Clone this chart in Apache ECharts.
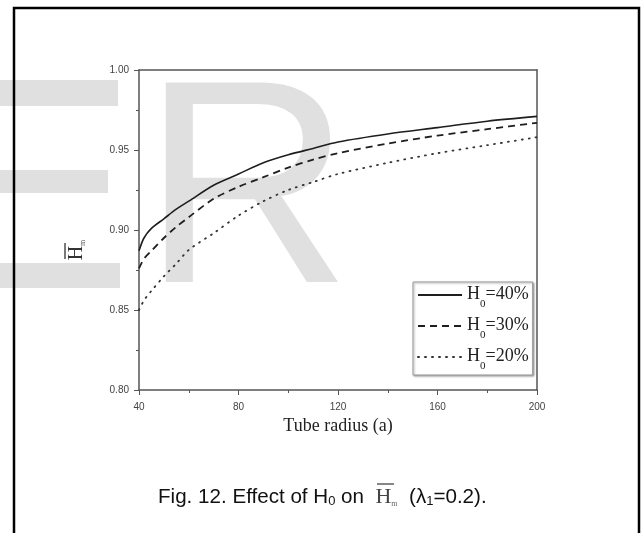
<!DOCTYPE html>
<html>
<head>
<meta charset="utf-8">
<script src="https://cdn.jsdelivr.net/npm/echarts@6/dist/echarts.min.js"></script>
<style>
  html, body { margin: 0; padding: 0; background: #fff; }
  #main { width: 643px; height: 533px; }
</style>
</head>
<body>
<div id="main"></div>
<script>
  // tube radius (a) where the curves were read
  var radius = [40, 42, 45, 50, 55, 60, 70, 80, 90, 100, 110, 120, 140, 160, 180, 200];
  // Hm for each H0
  var h40 = [0.887, 0.895, 0.901, 0.907, 0.913, 0.918, 0.928, 0.935, 0.942, 0.947, 0.951, 0.955, 0.960, 0.964, 0.968, 0.971];
  var h30 = [0.876, 0.882, 0.887, 0.895, 0.902, 0.908, 0.9195, 0.927, 0.933, 0.939, 0.944, 0.948, 0.954, 0.959, 0.963, 0.967];
  var h20 = [0.850, 0.856, 0.862, 0.871, 0.879, 0.8875, 0.898, 0.909, 0.918, 0.925, 0.930, 0.935, 0.942, 0.948, 0.953, 0.958];
  var seriesNames = ['H0=40%', 'H0=30%', 'H0=20%'];
  var xTicks = [40, 80, 120, 160, 200];
  var yTicks = [0.80, 0.85, 0.90, 0.95, 1.00];

  function zip(vals) {
    return radius.map(function (r, i) { return [r, vals[i]]; });
  }

  var wm = '#e0e0e0';   // watermark grey
  var ink = '#1e1e1e';

  var myChart = echarts.init(document.getElementById('main'));
  var option = {
    backgroundColor: '#fff',
    animation: false,
    grid: { left: 139, top: 70, width: 398, height: 320 },
    xAxis: [{
      type: 'value',
      min: xTicks[0], max: xTicks[xTicks.length - 1], interval: xTicks[1] - xTicks[0],
      name: 'Tube radius (a)', nameLocation: 'middle', nameGap: 25,
      nameTextStyle: { fontFamily: 'Liberation Serif', fontSize: 18, color: '#222' },
      axisLine: { lineStyle: { color: '#555', width: 1.5 } },
      axisTick: { length: 5, lineStyle: { color: '#555' } },
      minorTick: { show: true, splitNumber: 2, length: 3, lineStyle: { color: '#555' } },
      axisLabel: { margin: 12, fontFamily: 'Liberation Sans', fontSize: 10, color: '#444' },
      splitLine: { show: false }
    }, {
      type: 'value', position: 'top',
      min: xTicks[0], max: xTicks[xTicks.length - 1],
      axisLine: { onZero: false, lineStyle: { color: '#555', width: 1.5 } },
      axisTick: { show: false }, axisLabel: { show: false }, splitLine: { show: false }
    }],
    yAxis: [{
      type: 'value',
      min: yTicks[0], max: yTicks[yTicks.length - 1], interval: 0.05,
      axisLine: { show: true, onZero: false, lineStyle: { color: '#555', width: 1.5 } },
      axisTick: { show: true, length: 5, lineStyle: { color: '#555' } },
      minorTick: { show: true, splitNumber: 2, length: 3, lineStyle: { color: '#555' } },
      axisLabel: {
        margin: 10, fontFamily: 'Liberation Sans', fontSize: 10, color: '#444',
        formatter: function (v) { return v.toFixed(2); }
      },
      splitLine: { show: false }
    }, {
      type: 'value', position: 'right',
      min: yTicks[0], max: yTicks[yTicks.length - 1],
      axisLine: { show: true, onZero: false, lineStyle: { color: '#555', width: 1.5 } },
      axisTick: { show: false }, axisLabel: { show: false }, splitLine: { show: false }
    }],
    legend: {
      orient: 'vertical', left: 413, top: 282,
      itemWidth: 44, itemHeight: 14, itemGap: 6, padding: [3, 4, 3, 4],
      backgroundColor: '#fff', borderColor: '#999', borderWidth: 1,
      shadowColor: 'rgba(0,0,0,0.35)', shadowBlur: 2, shadowOffsetX: 1, shadowOffsetY: 1,
      itemStyle: { color: 'rgba(0,0,0,0)', borderWidth: 0 },
      data: seriesNames,
      formatter: function (name) {
        var p = name.split('=');
        return '{h|H}{s|0}{h|=' + p[1] + '}';
      },
      textStyle: {
        rich: {
          h: { fontFamily: 'Liberation Serif', fontSize: 18, color: '#222', verticalAlign: 'top', lineHeight: 20 },
          s: { fontFamily: 'Liberation Serif', fontSize: 11, color: '#222', verticalAlign: 'top', padding: [14, 0, 0, 0], lineHeight: 11 }
        }
      }
    },
    series: [{
      name: seriesNames[0], type: 'line', data: zip(h40), symbol: 'none', smooth: 0.3,
      lineStyle: { color: ink, width: 1.6, type: 'solid' }
    }, {
      name: seriesNames[1], type: 'line', data: zip(h30), symbol: 'none', smooth: 0.3,
      lineStyle: { color: ink, width: 1.8, type: [7, 5] }
    }, {
      name: seriesNames[2], type: 'line', data: zip(h20), symbol: 'none', smooth: 0.3,
      lineStyle: { color: '#333', width: 1.8, type: [1, 6], cap: 'round' }
    }],
    graphic: [
      // watermark behind the plot
      { type: 'rect', z: -1, shape: { x: 0, y: 80, width: 118, height: 26 }, style: { fill: wm } },
      { type: 'rect', z: -1, shape: { x: 0, y: 170, width: 108, height: 23 }, style: { fill: wm } },
      { type: 'rect', z: -1, shape: { x: 0, y: 263, width: 120, height: 25 }, style: { fill: wm } },
      { type: 'text', z: -1, x: 142, y: 202,
        style: { text: 'R', fontFamily: 'Liberation Sans', fontSize: 290, fill: wm, verticalAlign: 'middle' } },
      // frame round the figure
      { type: 'rect', shape: { x: 14, y: 8, width: 625, height: 560 },
        style: { fill: 'none', stroke: '#000', lineWidth: 2.5 } },
      // y axis name, H bar with m
      { type: 'group', x: 77, y: 250, rotation: Math.PI / 2, children: [
        { type: 'text', x: 0, y: 0,
          style: { text: '{h|H}{m|m}', align: 'center', verticalAlign: 'middle',
            rich: {
              h: { fontFamily: 'Liberation Serif', fontSize: 20, fill: '#333', verticalAlign: 'bottom' },
              m: { fontFamily: 'Liberation Serif', fontSize: 8, fill: '#555', verticalAlign: 'bottom' }
            } } },
        { type: 'line', shape: { x1: -9, y1: -12, x2: 7, y2: -12 }, style: { stroke: '#333', lineWidth: 1.3 } }
      ] },
      // caption
      { type: 'text', x: 158, y: 497,
        style: {
          text: '{a|Fig. 12. Effect of H}{b|0}{a| on  }{c|H}{d|m}{a|  (λ}{b|1}{a|=0.2).}',
          verticalAlign: 'middle',
          rich: {
            a: { fontFamily: 'Liberation Sans', fontSize: 20.6, fill: '#111', verticalAlign: 'bottom' },
            b: { fontFamily: 'Liberation Sans', fontSize: 13, fill: '#111', verticalAlign: 'bottom' },
            c: { fontFamily: 'Liberation Serif', fontSize: 22, fill: '#444', verticalAlign: 'bottom' },
            d: { fontFamily: 'Liberation Serif', fontSize: 8, fill: '#666', verticalAlign: 'bottom' }
          }
        } },
      { type: 'line', shape: { x1: 377, y1: 484, x2: 394, y2: 484 }, style: { stroke: '#444', lineWidth: 1.3 } }
    ]
  };
  myChart.setOption(option);
</script>
</body>
</html>
